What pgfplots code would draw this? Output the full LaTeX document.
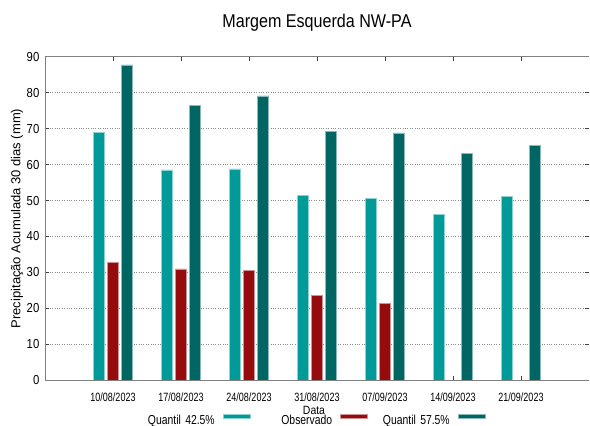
\documentclass[border=0pt]{standalone}
\usepackage{pgfplots}
\pgfplotsset{compat=1.18}
\usepackage{fontspec}
\setmainfont[FakeStretch=0.87]{Liberation Sans}
\newfontfamily\plainfont{Liberation Sans}
\newfontfamily\condfont[FakeStretch=0.8]{Liberation Sans}
\newfontfamily\tickfont[FakeStretch=0.75]{Liberation Sans}
\definecolor{qlow}{RGB}{0,155,152}
\definecolor{obs}{RGB}{150,12,14}
\definecolor{qhigh}{RGB}{0,102,100}
\definecolor{axgray}{RGB}{128,128,128}
\begin{document}
\begin{tikzpicture}
\useasboundingbox (-45pt,-45.7pt) rectangle (545pt,380.3pt);
\begin{axis}[
  at={(0,0)}, anchor=south west,
  scale only axis, width=544pt, height=323.6pt,
  xmin=-1, xmax=7, ymin=0, ymax=90,
  xtick={0,1,2,3,4,5,6},
  xticklabels={10/08/2023,17/08/2023,24/08/2023,31/08/2023,07/09/2023,14/09/2023,21/09/2023},
  ytick={0,10,...,90},
  tick align=inside, xtick pos=both, ytick pos=both,
  major tick length=4pt,
  tick style={black!75, line width=0.5pt},
  axis line style={draw=none},
  ymajorgrids, grid style={dotted, black!45, line width=0.6pt},
  /pgf/number format/assume math mode=true,
  yticklabel style={font=\fontsize{13}{14}\selectfont, anchor=east, inner sep=0pt, xshift=-5.5pt},
  xticklabel style={font=\tickfont\fontsize{12}{13}\selectfont, anchor=north, inner sep=0pt, yshift=-12.5pt},
  title={Margem Esquerda NW-PA},
  title style={at={(axis description cs:0.5,1)}, anchor=base, yshift=23.5pt, inner sep=0pt, font=\fontsize{18.5}{20}\selectfont},
  ylabel={Precipitação Acumulada 30 dias (mm)},
  ylabel style={at={(axis description cs:-0.0515,0.5)}, anchor=center, rotate=0, inner sep=0pt, font=\plainfont\fontsize{13}{14}\selectfont},
  xlabel={Data},
  xlabel style={at={(axis description cs:0.4945,-0.093)}, anchor=center, inner sep=0pt, font=\fontsize{12}{13}\selectfont},
  legend columns=3,
  legend plot pos=right,
  legend cell align=right,
  legend style={at={(axis description cs:0.4945,-0.1227)}, anchor=center, draw=none, fill=none, inner sep=0pt,
    font=\condfont\fontsize{13}{14}\selectfont,
    nodes={text width=72pt, align=right, inner sep=0pt},
    /tikz/every odd column/.append style={column sep=8pt},
    /tikz/every even column/.append style={column sep=10pt}},
  legend image code/.code={\fill[#1] (0pt,1.5pt) rectangle (27pt,5.5pt);},
]
\addplot[ybar, bar width=11.3pt, bar shift=-14pt, fill=qlow, draw=qlow!45!white, line width=0.5pt]
  coordinates {(0,69.0) (1,58.5) (2,58.8) (3,51.4) (4,50.5) (5,46.1) (6,51.2)};
\addlegendentry{Quantil 42.5\%}
\addplot[ybar, bar width=11.3pt, bar shift=0pt, fill=obs, draw=obs!45!white, line width=0.5pt]
  coordinates {(0,32.9) (1,31.0) (2,30.6) (3,23.6) (4,21.3)};
\addlegendentry{Observado}
\addplot[ybar, bar width=11.3pt, bar shift=14pt, fill=qhigh, draw=qhigh!45!white, line width=0.5pt]
  coordinates {(0,87.7) (1,76.5) (2,79.1) (3,69.2) (4,68.8) (5,63.2) (6,65.4)};
\addlegendentry{Quantil 57.5\%}
\draw[axgray, line width=0.8pt] (axis description cs:0,1) -- (axis description cs:0,0) -- (axis description cs:1,0);
\draw[axgray, line width=0.8pt] (axis description cs:0,1) -- (axis description cs:1,1);
\end{axis}
\end{tikzpicture}
\end{document}
